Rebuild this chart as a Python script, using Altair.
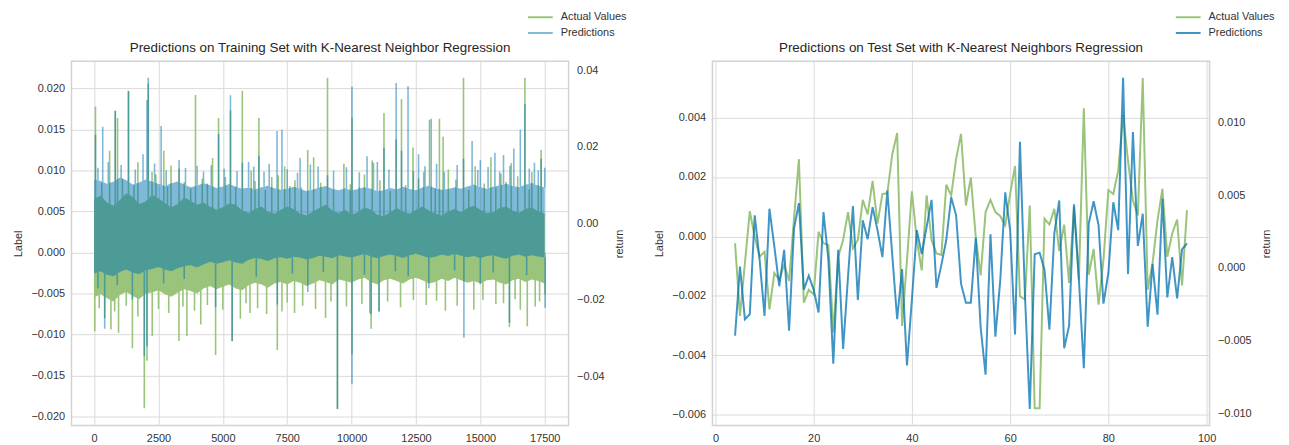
import altair as alt
import numpy as np
import pandas as pd

FONT = "Liberation Sans"
TXT = "#333333"
GREEN = "#9AC47C"
BLUE = "#0072B2"
BLUE_HALF = "#80B9D9"
BLUE_75 = "#4095C5"
SERIES = ["Actual Values", "Predictions"]

# ---------------- training-set panel (values in units of 1e-3) ----------------
train_x = [i * 250 for i in range(71)]
green_hi = [6.5, 6.9, 6.1, 5.7, 6.4, 7.2, 6.8, 5.9, 6.2, 7.0,
            6.6, 6.0, 5.5, 5.9, 6.7, 6.3, 5.8, 6.1, 5.6, 5.2,
            5.5, 6.0, 5.8, 5.1, 4.8, 5.3, 5.6, 5.0, 4.7, 5.2,
            5.6, 5.3, 4.7, 4.5, 5.0, 5.4, 5.8, 5.1, 4.8, 5.2,
            4.6, 4.9, 5.5, 5.2, 4.6, 4.4, 4.9, 5.4, 5.0, 4.7,
            5.2, 5.6, 5.1, 4.7, 4.5, 5.0, 5.3, 4.9, 5.4, 5.7,
            5.2, 4.8, 4.9, 5.4, 5.6, 5.1, 4.8, 5.3, 5.5, 5.0,
            4.7]
green_lo = [-5.5, -5.1, -5.6, -6.0, -5.2, -4.8, -5.3, -5.7, -5.0, -4.9,
            -4.6, -5.1, -5.4, -4.9, -4.5, -4.7, -5.0, -4.4, -4.1, -4.5,
            -4.2, -3.9, -4.4, -4.6, -4.0, -3.7, -3.9, -4.3, -3.8, -3.6,
            -3.9, -3.5, -3.7, -4.1, -3.8, -3.4, -3.6, -3.9, -3.3, -3.5,
            -3.7, -3.3, -3.1, -3.6, -3.9, -3.4, -3.2, -3.5, -3.8, -3.3,
            -3.1, -3.4, -3.8, -3.6, -3.2, -3.5, -3.1, -3.4, -3.7, -3.5,
            -3.8, -3.4, -3.3, -3.7, -3.9, -3.4, -3.2, -3.6, -3.3, -3.5,
            -3.8]
blue_hi = [11.5, 11.0, 10.3, 10.8, 11.9, 11.2, 10.1, 10.6, 11.4, 10.9,
           10.2, 9.7, 10.4, 10.9, 10.1, 9.4, 9.8, 10.5, 9.9, 9.2,
           9.6, 10.2, 9.5, 9.0, 9.3, 8.8, 9.4, 9.8, 9.1, 8.7,
           9.0, 9.5, 8.9, 8.4, 8.8, 9.3, 9.7, 9.0, 8.6, 9.1,
           8.5, 8.9, 9.4, 9.0, 8.3, 8.6, 9.2, 8.8, 9.5, 8.9,
           8.6, 9.3, 9.8, 9.1, 8.7, 8.9, 9.4, 9.0, 9.6, 10.1,
           9.4, 9.0, 9.5, 9.9, 10.3, 9.7, 9.4, 10.0, 10.5, 9.8,
           9.3]
blue_lo = [-13.2, -12.6, -13.5, -13.9, -12.8, -12.1, -12.9, -13.4, -12.4, -12.0,
           -11.5, -12.1, -12.6, -11.8, -11.2, -11.0, -11.6, -10.8, -10.1, -10.6,
           -10.2, -9.7, -10.3, -10.6, -9.6, -9.1, -9.4, -9.9, -9.2, -8.9,
           -9.3, -8.8, -9.0, -9.5, -9.1, -8.5, -8.8, -9.2, -8.4, -8.7,
           -9.0, -8.5, -8.1, -8.7, -9.2, -8.6, -8.2, -8.6, -9.1, -8.4,
           -8.0, -8.5, -9.1, -8.8, -8.2, -8.6, -8.0, -8.5, -8.9, -8.6,
           -9.2, -8.6, -8.4, -8.9, -9.3, -8.5, -8.2, -8.8, -8.4, -8.7,
           -9.0]

# tall spikes
green_up_x = [54, 604, 823, 911, 1335, 1700, 2104, 2400, 2708, 2988, 3300, 3938,
              4200, 4600, 4834, 5296, 5757, 6100, 6400, 6900, 7400, 7800, 8296,
              8527, 9065, 9700, 10015, 10500, 10800, 11257, 11730, 11938, 12384,
              12800, 13092, 13411, 13553, 13757, 14346, 14800, 15411, 15800,
              16200, 16730, 17000, 17361]
green_up = [17.8, 12.4, 17.3, 16.4, 19.7, 11.0, 20.6, 9.5, 12.4, 10.6, 10.2, 19.2,
            9.0, 11.5, 16.4, 17.3, 19.7, 10.0, 16.4, 9.2, 10.5, 8.8, 12.5,
            11.6, 21.3, 10.8, 16.4, 9.5, 11.2, 17.0, 13.8, 18.7, 12.8,
            9.8, 16.3, 16.3, 14.1, 10.1, 21.3, 10.5, 11.6, 9.6,
            10.9, 21.3, 9.8, 12.5]
# medium spikes
green_up_mx = [300, 1100, 1550, 2250, 2850, 3500, 3750, 4400, 5100, 5500, 6250,
               6650, 7150, 7600, 8050, 8800, 9300, 9950, 10300, 11100, 11500,
               12100, 12600, 13250, 14050, 14550, 15150, 15600, 16000, 16450,
               16900, 17250]
green_up_m = [8.5, 9.0, 8.2, 9.8, 8.0, 8.6, 7.8, 8.4, 9.2, 8.0, 8.7,
              7.6, 9.4, 8.1, 7.9, 8.5, 7.7, 8.3, 7.9, 8.8, 7.5,
              8.2, 9.0, 7.8, 8.9, 7.6, 8.4, 7.9, 8.6, 9.3,
              7.7, 8.2]
green_dn_x = [27, 412, 654, 950, 1488, 1950, 2054, 2258, 3296, 3604, 4142, 4719,
              5361, 5680, 6054, 7115, 7296, 7784, 8988, 9450, 10015, 10707,
              10757, 11065, 13642, 14746, 15603, 16130, 16553, 16823, 17130, 17515]
green_dn = [-9.6, -8.0, -9.4, -9.8, -11.7, -19.0, -13.2, -10.2, -10.8, -10.2, -8.8, -12.5,
            -10.8, -8.1, -7.4, -11.9, -7.2, -7.4, -8.0, -19.1, -12.4, -7.4,
            -9.3, -7.2, -7.1, -7.0, -6.3, -9.1, -7.0, -9.0, -6.6, -5.1]
green_dn_mx = [200, 800, 1250, 1700, 2500, 2900, 3450, 3900, 4400, 5000, 5900,
               6350, 6700, 7500, 8100, 8600, 9200, 9800, 10400, 11400, 11900,
               12400, 12900, 13300, 14100, 15100, 15900, 16350, 17300]
green_dn_m = [-6.8, -7.2, -6.5, -7.8, -6.9, -7.4, -6.6, -7.1, -6.4, -7.0, -6.2,
              -6.8, -7.5, -6.1, -6.5, -6.9, -6.0, -6.6, -6.3, -6.0, -6.7,
              -5.8, -6.4, -5.9, -6.5, -5.8, -6.2, -5.7, -6.0]
blue_up_x = [54, 335, 823, 1335, 1900, 2054, 2104, 2604, 3300, 4000, 4834, 5296,
             5757, 6000, 6400, 6800, 7104, 7296, 8000, 8700, 9065, 10015, 10600,
             11000, 11257, 11730, 11938, 12192, 12600, 13027, 13300, 14346, 14680,
             15000, 15565, 15900, 16300, 16553, 16730, 17100, 17361, 17500]
blue_up = [23.1, 25.2, 29.3, 34.5, 18.0, 32.2, 38.0, 25.4, 16.5, 15.0, 23.3, 33.4,
           15.8, 16.0, 17.6, 15.5, 24.1, 24.4, 17.0, 14.8, 12.5, 35.7, 17.5,
           16.0, 19.7, 36.6, 18.9, 35.8, 18.0, 27.0, 15.5, 16.8, 21.5,
           16.5, 18.4, 17.8, 19.5, 24.4, 31.1, 15.8, 16.8, 14.5]
blue_up_mx = [150, 550, 1050, 1600, 2350, 2800, 3550, 4250, 4550, 5050, 5550,
              6200, 6600, 7500, 7900, 8400, 9300, 9800, 10300, 10850, 11450,
              12400, 12850, 13600, 14100, 14900, 15300, 15750, 16150, 16900, 17250]
blue_up_m = [14.5, 16.0, 15.2, 14.0, 15.6, 13.8, 14.4, 13.5, 15.1, 14.2, 13.6,
             14.8, 13.4, 14.1, 13.2, 15.3, 13.7, 14.6, 13.3, 15.8, 14.0,
             13.6, 14.9, 13.4, 15.2, 13.9, 14.7, 13.5, 15.0, 14.3, 13.8]
blue_dn_x = [412, 1488, 1950, 2054, 4719, 5361, 7115, 8300, 9450, 10015, 10757,
             11065, 13000, 14361, 15000, 16130, 17515]
blue_dn = [-27.6, -20.0, -34.8, -32.2, -22.0, -30.9, -21.3, -18.0, -48.6, -42.1, -23.9,
           -23.1, -17.0, -30.0, -16.0, -26.0, -22.1]
blue_dn_mx = [150, 900, 2700, 3500, 6300, 7700, 8900, 10500, 11700, 12200, 14000,
              15500, 16800]
blue_dn_m = [-17.0, -16.2, -15.8, -14.6, -14.0, -13.2, -12.8, -13.5, -12.6, -13.9,
             -12.4, -12.9, -13.6]

# ---------------- test-set panel ----------------
test_x = list(range(4, 97))
test_actual = [-0.00023, -0.00267, -0.00090, 0.00085, -0.00001, -0.00068, -0.00051,
               -0.00245, -0.00123, -0.00145, -0.00095, -0.00150, 0.00060, 0.00260,
               -0.00223, -0.00179, -0.00195, 0.00016, -0.00023, -0.00029, -0.00323,
               -0.00068, -0.00012, 0.00082, -0.00040, -0.00012, 0.00123, 0.00074,
               0.00187, 0.00043, 0.00143, 0.00145, 0.00276, 0.00348, -0.00301,
               -0.00079, 0.00152, -0.00012, -0.00114, 0.00138, -0.00012, -0.00057,
               -0.00062, 0.00174, 0.00138, 0.00260, 0.00345, 0.00104, 0.00199,
               -0.00001, -0.00131, 0.00082, 0.00123, 0.00082, 0.00068, 0.00038,
               0.00143, 0.00237, -0.00201, -0.00212, 0.00104, -0.00578, -0.00578,
               0.00060, 0.00040, 0.00093, -0.00049, 0.00040, -0.00156, 0.00099,
               -0.00145, 0.00431, -0.00129, -0.00042, -0.00229, -0.00079, 0.00156,
               0.00143, 0.00221, 0.00409, 0.00254, 0.00121, 0.00071, 0.00533,
               -0.00179, -0.00090, 0.00054, 0.00160, -0.00068, 0.00010, 0.00057,
               -0.00165, 0.00088]
test_pred = [-0.00467, 0.00009, -0.00354, -0.00320, 0.00361, 0.00054, -0.00331,
             0.00406, 0.00145, -0.00127, 0.00123, -0.00433, 0.00270, 0.00445,
             -0.00150, -0.00054, -0.00150, -0.00308, 0.00383, 0.00054, -0.00660,
             0.00123, -0.00558, -0.00059, 0.00424, -0.00222, 0.00327, 0.00197,
             0.00417, 0.00259, 0.00073, 0.00531, 0.00089, -0.00354, -0.00009,
             -0.00671, -0.00218, 0.00259, 0.00095, 0.00281, 0.00467, -0.00138,
             0.00020, 0.00191, 0.00485, 0.00361, -0.00109, -0.00240, -0.00240,
             0.00206, -0.00411, -0.00735, 0.00231, -0.00474, -0.00082, 0.00519,
             0.00259, -0.00458, 0.00866, -0.00172, -0.00971, 0.00093, 0.00104,
             -0.00014, -0.00426, 0.00236, 0.00463, -0.00553, -0.00399, 0.00436,
             -0.00082, -0.00690, 0.00304, 0.00458, 0.00293, -0.00247, -0.00036,
             0.00451, 0.00259, 0.01306, -0.00043, 0.00934, 0.00150, 0.00372,
             -0.00406, 0.00027, -0.00322, 0.00474, -0.00204, 0.00073, -0.00211,
             0.00127, 0.00168]

# ---------------- data frames ----------------
k = 1e-3
body = pd.DataFrame({
    "x": train_x,
    "g_hi": np.array(green_hi) * k, "g_lo": np.array(green_lo) * k,
    "b_hi": np.array(blue_hi) * k, "b_lo": np.array(blue_lo) * k,
})
g_x = green_up_x + green_up_mx + green_dn_x + green_dn_mx
g_tip = green_up + green_up_m + green_dn + green_dn_m
g_spk = pd.DataFrame({"x": g_x, "tip": np.array(g_tip) * k, "base": 0.0,
                      "series": "Actual Values"})
bu_x = blue_up_x + blue_up_mx
bd_x = blue_dn_x + blue_dn_mx
b_spk = pd.DataFrame({
    "x": bu_x + bd_x,
    "tip": np.array(blue_up + blue_up_m + blue_dn + blue_dn_m) * k,
    "base": list(np.interp(bu_x, train_x, blue_hi) * k)
            + list(np.interp(bd_x, train_x, blue_lo) * k),
})
test = pd.DataFrame({"x": test_x, "actual": test_actual, "pred": test_pred,
                     "series": "Actual Values"})

# ---------------- helpers ----------------
def legend(lx):
    return alt.Legend(orient="none", legendX=lx, legendY=-50, title=None,
                      symbolType="stroke", symbolSize=625, symbolStrokeWidth=2,
                      labelFont=FONT, labelFontSize=11, labelColor=TXT,
                      labelOffset=7, clipHeight=11, rowPadding=4, padding=0)

def title(text):
    return alt.TitleParams(text=text, anchor="middle", frame="group", font=FONT,
                           fontSize=13.5, fontWeight="normal", color="#262626",
                           offset=6, dy=49)

W, H = 501, 367

# ---- left panel ----
xs_tr = alt.Scale(domain=[-877, 18427], nice=False, zero=False)
ax_x_tr = alt.Axis(values=[0, 2500, 5000, 7500, 10000, 12500, 15000, 17500],
                   format="d", title=None, labelFlush=False, labelPadding=7)
ys_l = alt.Scale(domain=[-0.0211, 0.0233], nice=False, zero=False)
ax_l = alt.Axis(values=[-0.02, -0.015, -0.01, -0.005, 0, 0.005, 0.01, 0.015, 0.02],
                format=".3f", title="Label", orient="left", labelPadding=7, titlePadding=7)
ys_r = alt.Scale(domain=[-0.0529, 0.0423], nice=False, zero=False)
ax_r = alt.Axis(values=[-0.04, -0.02, 0, 0.02, 0.04], format=".2f", title="return",
                orient="right", titleAngle=270, labelPadding=8, titlePadding=20)

X = alt.X("x:Q", scale=xs_tr, axis=ax_x_tr)

g_area = alt.Chart(body).mark_area(color=GREEN, clip=True).encode(
    x=X, y=alt.Y("g_lo:Q", scale=ys_l, axis=ax_l), y2="g_hi:Q")
g_rule = alt.Chart(g_spk).mark_rule(strokeWidth=1.6, clip=True).encode(
    x=X, y=alt.Y("base:Q", scale=ys_l, axis=ax_l), y2="tip:Q",
    color=alt.Color("series:N", scale=alt.Scale(domain=SERIES, range=[GREEN, BLUE_HALF]),
                    legend=legend(459)))
left_group = alt.layer(g_area, g_rule)

b_area = alt.Chart(body).mark_area(color=BLUE, opacity=0.5, clip=True).encode(
    x=X, y=alt.Y("b_lo:Q", scale=ys_r, axis=ax_r), y2="b_hi:Q")
b_rule = alt.Chart(b_spk).mark_rule(color=BLUE, opacity=0.5, strokeWidth=1.6, clip=True).encode(
    x=X, y=alt.Y("base:Q", scale=ys_r, axis=ax_r), y2="tip:Q")
right_group = alt.layer(b_area, b_rule)

train_panel = alt.layer(left_group, right_group).resolve_scale(y="independent").properties(
    width=W, height=H,
    title=title("Predictions on Training Set with K-Nearest Neighbor Regression"))

# ---- right panel ----
xs_te = alt.Scale(domain=[-0.6, 100.6], nice=False, zero=False)
ax_x_te = alt.Axis(values=[0, 20, 40, 60, 80, 100], format="d", title=None,
                   labelFlush=False, labelPadding=7)
ys_l2 = alt.Scale(domain=[-0.006357, 0.005891], nice=False, zero=False)
ax_l2 = alt.Axis(values=[-0.006, -0.004, -0.002, 0, 0.002, 0.004], format=".3f",
                 title="Label", orient="left", labelPadding=7, titlePadding=7)
ys_r2 = alt.Scale(domain=[-0.010845, 0.0142], nice=False, zero=False)
ax_r2 = alt.Axis(values=[-0.01, -0.005, 0, 0.005, 0.01], format=".3f", title="return",
                 orient="right", titleAngle=270, labelPadding=8, titlePadding=20)

X2 = alt.X("x:Q", scale=xs_te, axis=ax_x_te)
t_act = alt.Chart(test).mark_line(strokeWidth=2, clip=True).encode(
    x=X2, y=alt.Y("actual:Q", scale=ys_l2, axis=ax_l2),
    color=alt.Color("series:N", scale=alt.Scale(domain=SERIES, range=[GREEN, BLUE_75]),
                    legend=legend(466)))
t_pred = alt.Chart(test).mark_line(strokeWidth=2, color=BLUE, opacity=0.75, clip=True).encode(
    x=X2, y=alt.Y("pred:Q", scale=ys_r2, axis=ax_r2))

test_panel = alt.layer(t_act, t_pred).resolve_scale(y="independent").properties(
    width=W, height=H,
    title=title("Predictions on Test Set with K-Nearest Neighbors Regression"))

chart = alt.hconcat(train_panel, test_panel, spacing=145, bounds="flush").resolve_scale(
    color="independent"
).properties(
    padding={"left": 4, "top": 1, "right": 5, "bottom": 5}
).configure_view(
    stroke="#d2d2d2", strokeWidth=1.5
).configure_axis(
    grid=True, gridColor="#dadada", gridWidth=1, domain=False, ticks=False,
    labelFont=FONT, labelFontSize=11, labelColor=TXT,
    titleFont=FONT, titleFontSize=11, titleColor=TXT, titleFontWeight="normal"
).configure_title(font=FONT)

chart.save("out.html", embed_options={"renderer": "svg", "actions": False})
